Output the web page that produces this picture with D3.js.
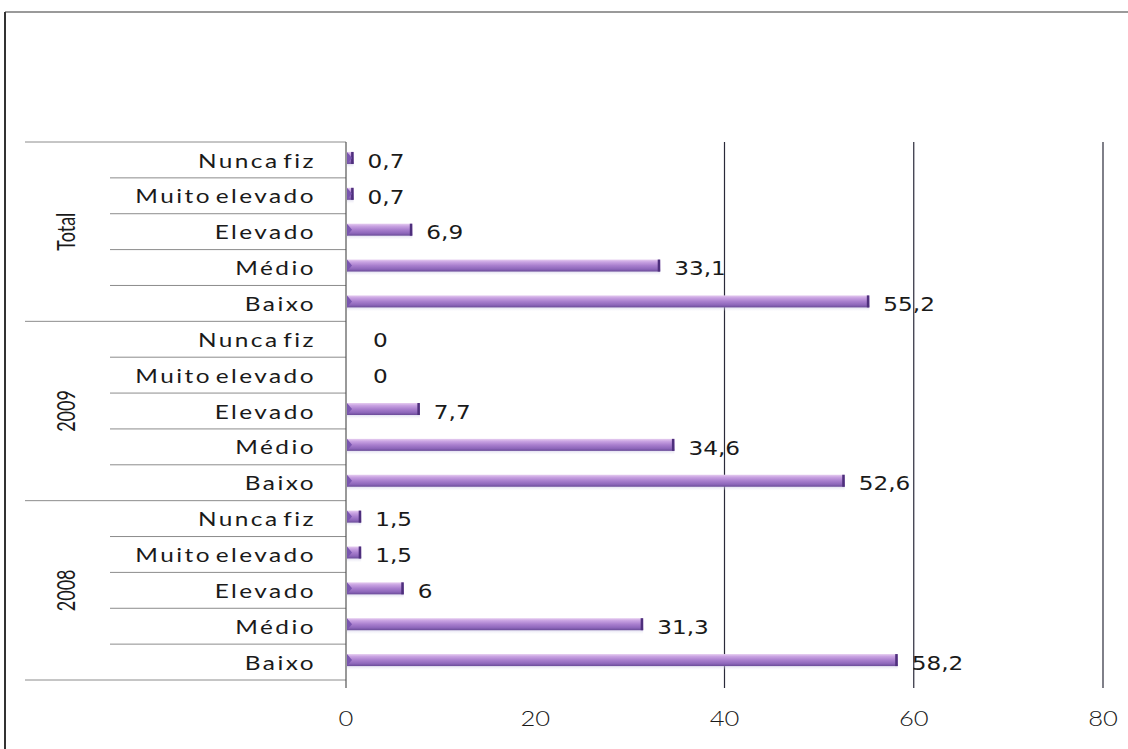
<!DOCTYPE html>
<html>
<head>
<meta charset="utf-8">
<script src="https://cdn.jsdelivr.net/npm/d3@7/dist/d3.min.js"></script>
<style>
  html, body { margin: 0; padding: 0; background: #fff; }
  svg { display: block; }
</style>
</head>
<body>
<svg id="chart" width="1128" height="749"></svg>
<script>
// ---- data ----
const groups = ["Total", "2009", "2008"];
const categories = ["Nunca fiz", "Muito elevado", "Elevado", "Médio", "Baixo"];
const valuesTotal = [0.7, 0.7, 6.9, 33.1, 55.2];
const values2009 = [0, 0, 7.7, 34.6, 52.6];
const values2008 = [1.5, 1.5, 6, 31.3, 58.2];
const xTicks = [0, 20, 40, 60, 80];
const gridTicks = [40, 60, 80];

const seriesByGroup = { "Total": valuesTotal, "2009": values2009, "2008": values2008 };
const rows = [];
groups.forEach(g => categories.forEach((c, i) => rows.push({ group: g, cat: c, value: seriesByGroup[g][i], key: g + "|" + c })));

// ---- layout ----
const W = 1128, H = 749;
const plotTop = 142, plotBottom = 680, axisX0 = 346, axisX1 = 1103;
const svg = d3.select("#chart");

const x = d3.scaleLinear().domain([0, 80]).range([axisX0, axisX1]);
const y = d3.scaleBand().domain(rows.map(r => r.key)).range([plotTop, plotBottom]).padding(0);
const yGroup = d3.scaleBand().domain(groups).range([plotTop, plotBottom]).padding(0);

const fmt = v => String(v).replace(".", ",");
const SX = 1.22; // horizontal stretch of the scanned text

// defs
const defs = svg.append("defs");
const grad = defs.append("linearGradient").attr("id", "barGrad").attr("x1", 0).attr("y1", 0).attr("x2", 0).attr("y2", 1);
[["0%", "#e6cdf0"], ["20%", "#c9a3e2"], ["50%", "#a97fce"], ["80%", "#8d66ba"], ["100%", "#6a4b98"]]
  .forEach(([o, c]) => grad.append("stop").attr("offset", o).attr("stop-color", c));
const shGrad = defs.append("linearGradient").attr("id", "shadowGrad").attr("x1", 0).attr("y1", 0).attr("x2", 0).attr("y2", 1);
[["0%", "#b9b4da", 0.8], ["100%", "#e8e6f4", 0]]
  .forEach(([o, c, op]) => shGrad.append("stop").attr("offset", o).attr("stop-color", c).attr("stop-opacity", op));

// outer frame
svg.append("line").attr("x1", 5).attr("x2", W).attr("y1", 12).attr("y2", 12)
  .attr("stroke", "#9a9a9a").attr("stroke-width", 2);
svg.append("line").attr("x1", 5).attr("x2", 5).attr("y1", 12).attr("y2", H)
  .attr("stroke", "#333").attr("stroke-width", 2);

// row separators (within groups)
const innerBounds = [];
rows.forEach((r, i) => { if (i % categories.length !== 0) innerBounds.push(y(r.key)); });
svg.append("g").selectAll("line").data(innerBounds).join("line")
  .attr("x1", 110).attr("x2", axisX0).attr("y1", d => d).attr("y2", d => d)
  .attr("stroke", "#8c8c8c").attr("stroke-width", 1);
// group separators
const groupBounds = groups.map(g => yGroup(g)).concat([plotBottom]);
svg.append("g").selectAll("line").data(groupBounds).join("line")
  .attr("x1", 25).attr("x2", axisX0).attr("y1", d => d).attr("y2", d => d)
  .attr("stroke", "#8c8c8c").attr("stroke-width", 1);

// gridlines + value axis line
svg.append("g").selectAll("line").data([0].concat(gridTicks)).join("line")
  .attr("x1", d => x(d)).attr("x2", d => x(d)).attr("y1", plotTop).attr("y2", 688)
  .attr("stroke", d => d === 0 ? "#555" : "#2a2a3a").attr("stroke-width", 1.2);

// bars
const barH = 12;
const bars = svg.append("g").selectAll("g").data(rows.filter(r => r.value > 0)).join("g");
bars.append("rect")
  .attr("x", x(0) + 1).attr("y", d => y(d.key) + y.bandwidth() / 2 + 2)
  .attr("width", d => x(d.value) - x(0)).attr("height", 6)
  .attr("fill", "url(#shadowGrad)");
bars.append("rect")
  .attr("x", x(0) + 1).attr("y", d => y(d.key) + y.bandwidth() / 2 - barH / 2 - 2)
  .attr("width", d => x(d.value) - x(0)).attr("height", barH)
  .attr("fill", "url(#barGrad)");
// dark end cap
bars.append("rect")
  .attr("x", d => x(d.value) - 1.5).attr("y", d => y(d.key) + y.bandwidth() / 2 - barH / 2 - 2)
  .attr("width", 2.5).attr("height", barH)
  .attr("fill", "#4e2f7c");
// left bevel
bars.append("path")
  .attr("d", d => {
    const cy = y(d.key) + y.bandwidth() / 2 - barH / 2 - 2;
    const x0 = x(0) + 1;
    return `M${x0},${cy} L${x0 + 5},${cy + barH / 2} L${x0},${cy + barH} Z`;
  })
  .attr("fill", "#7a56b0");

// value labels
svg.append("g").selectAll("text").data(rows).join("text")
  .attr("transform", d => `translate(${x(d.value) + (d.value === 0 ? 27 : 15)},${y(d.key) + y.bandwidth() / 2 + 1}) scale(${SX},1)`)
  .attr("dominant-baseline", "central")
  .attr("font-family", "'DejaVu Sans', Verdana, sans-serif")
  .attr("font-size", 19)
  .attr("fill", "#1a1a1a")
  .text(d => fmt(d.value));

// category labels
svg.append("g").selectAll("text").data(rows).join("text")
  .attr("transform", d => `translate(316,${y(d.key) + y.bandwidth() / 2}) scale(${SX},1)`)
  .attr("text-anchor", "end")
  .attr("dominant-baseline", "central")
  .attr("font-family", "Lato, Carlito, Calibri, sans-serif")
  .attr("font-size", 20)
  .attr("letter-spacing", 2)
  .attr("word-spacing", -4)
  .attr("fill", "#1a1a1a")
  .text(d => d.cat);

// group labels
svg.append("g").selectAll("text").data(groups).join("text")
  .attr("transform", g => `translate(65,${yGroup(g) + yGroup.bandwidth() / 2}) scale(1.4,1) rotate(-90)`)
  .attr("text-anchor", "middle")
  .attr("dominant-baseline", "central")
  .attr("font-family", "Lato, Carlito, Calibri, sans-serif")
  .attr("font-size", 18)
  .attr("fill", "#1a1a1a")
  .text(g => g);

// x axis tick labels
svg.append("g").selectAll("text").data(xTicks).join("text")
  .attr("transform", d => `translate(${x(d)},718) scale(${SX},1)`)
  .attr("text-anchor", "middle")
  .attr("dominant-baseline", "central")
  .attr("font-family", "Lato, Carlito, Calibri, sans-serif")
  .attr("font-size", 21)
  .attr("font-weight", 300)
  .attr("fill", "#1a1a1a")
  .text(d => d);
</script>
</body>
</html>
